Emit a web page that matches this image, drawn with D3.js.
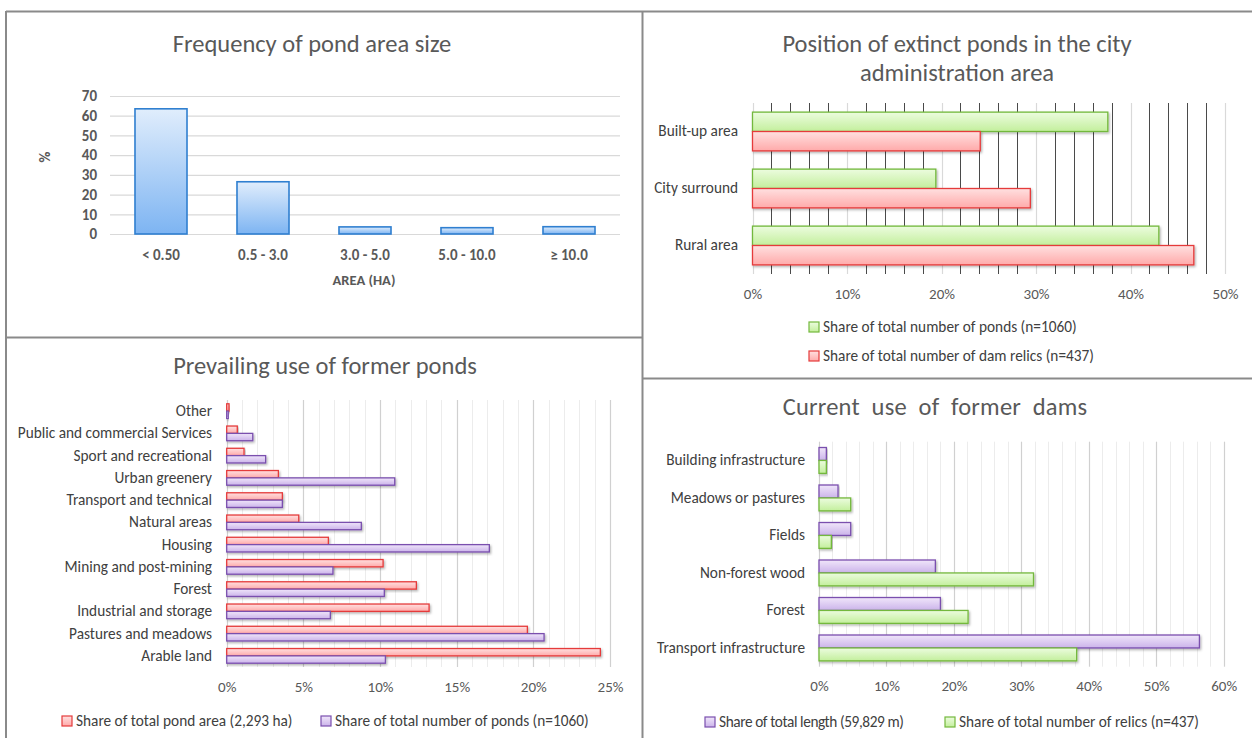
<!DOCTYPE html>
<html>
<head>
<meta charset="utf-8">
<script src="https://cdn.jsdelivr.net/npm/d3@7"></script>
<style>
  body { margin: 0; background: #fff; }
  svg { display: block; }
  text { font-family: Carlito, Calibri, Lato, "Open Sans", sans-serif; }
</style>
</head>
<body>
<svg id="chart" width="1252" height="738"></svg>
<script>
// ---- Frequency of pond area size (%) ----
const areaClasses = ["< 0.50", "0.5 - 3.0", "3.0 - 5.0", "5.0 - 10.0", "≥ 10.0"];
const areaFrequency = [63.5, 26.5, 3.6, 3.2, 3.7];
const frequencyTicks = [0, 10, 20, 30, 40, 50, 60, 70];

// ---- Position of extinct ponds in the city administration area (%) ----
const positionCategories = ["Built-up area", "City surround", "Rural area"];
const positionPonds = [37.6, 19.4, 43.0];
const positionDamRelics = [24.1, 29.4, 46.7];
const positionTicks = [0, 10, 20, 30, 40, 50];

// ---- Prevailing use of former ponds (%) ----
const useCategories = ["Other", "Public and commercial Services", "Sport and recreational",
  "Urban greenery", "Transport and technical", "Natural areas", "Housing",
  "Mining and post-mining", "Forest", "Industrial and storage",
  "Pastures and meadows", "Arable land"];
const useArea = [0.15, 0.69, 1.13, 3.37, 3.63, 4.70, 6.63, 10.2, 12.37, 13.2, 19.61, 24.37];
const usePonds = [0.1, 1.7, 2.54, 10.96, 3.63, 8.78, 17.13, 6.93, 10.28, 6.76, 20.7, 10.35];
const useTicks = [0, 5, 10, 15, 20, 25];

// ---- Current use of former dams (%) ----
const damCategories = ["Building infrastructure", "Meadows or pastures", "Fields",
  "Non-forest wood", "Forest", "Transport infrastructure"];
const damLength = [1.09, 2.82, 4.70, 17.25, 18.0, 56.4];
const damRelics = [1.09, 4.70, 1.83, 31.8, 22.1, 38.2];
const damTicks = [0, 10, 20, 30, 40, 50, 60];

const svg = d3.select("#chart");
const defs = svg.append("defs");

// Fill styles: vertical gradients with a darker outline
const palette = {
  blue:   { top: "#e0edfc", bottom: "#7db4f2", stroke: "#2f7fd0" },
  green:  { top: "#ecfcdf", bottom: "#c3ef9c", stroke: "#73b83c" },
  red:    { top: "#ffe0e0", bottom: "#ffaaaa", stroke: "#e53b3b" },
  purple: { top: "#f0e6fa", bottom: "#cbb3ea", stroke: "#7a4fae" }
};
Object.entries(palette).forEach(([name, c]) => {
  const lg = defs.append("linearGradient").attr("id", "grad-" + name)
    .attr("x1", 0).attr("y1", 0).attr("x2", 0).attr("y2", 1);
  lg.append("stop").attr("offset", "0%").attr("stop-color", c.top);
  lg.append("stop").attr("offset", "100%").attr("stop-color", c.bottom);
});
const shadow = defs.append("filter").attr("id", "shadow")
  .attr("x", "-5%").attr("y", "-30%").attr("width", "115%").attr("height", "180%");
shadow.append("feDropShadow").attr("dx", 1.2).attr("dy", 1.5)
  .attr("stdDeviation", 0.9).attr("flood-color", "#000").attr("flood-opacity", 0.3);

const TITLE = "#595959", LABEL = "#404040", TICK = "#595959";
const LABEL_SIZE = 15.3, TICK_SIZE = 15, TITLE_SIZE = 24.5;

function title(lines, cx, y0, lh, spacing) {
  lines.forEach((t, i) => {
    const txt = svg.append("text")
      .attr("x", cx).attr("y", y0 + i * lh)
      .attr("text-anchor", "middle").attr("font-size", TITLE_SIZE).attr("fill", TITLE)
      .text(t);
    if (spacing) txt.attr("letter-spacing", spacing.letter).attr("word-spacing", spacing.word);
  });
}

// ===== Chart 1: vertical column chart =====
(function () {
  const g = svg.append("g");
  const x = d3.scaleBand().domain(areaClasses).range([110, 620])
    .paddingInner(0.49).paddingOuter(0.245);
  const y = d3.scaleLinear().domain([0, 70]).range([234, 96]);

  g.append("g").selectAll("line").data(frequencyTicks).join("line")
    .attr("x1", 110).attr("x2", 620)
    .attr("y1", d => y(d) + 0.5).attr("y2", d => y(d) + 0.5)
    .attr("stroke", "#d9d9d9").attr("stroke-width", 1.2);

  const ya = g.append("g").attr("transform", "translate(110,0)")
    .call(d3.axisLeft(y).tickValues(frequencyTicks).tickSize(0).tickPadding(13));
  ya.select(".domain").remove();
  ya.selectAll("text").attr("font-size", 15).attr("font-weight", "bold")
    .attr("fill", TICK).attr("font-family", null);

  const xa = g.append("g").attr("transform", "translate(0,234)")
    .call(d3.axisBottom(x).tickSize(0).tickPadding(15));
  xa.select(".domain").remove();
  xa.selectAll("text").attr("font-size", 15).attr("font-weight", "bold")
    .attr("fill", TICK).attr("font-family", null);

  g.append("g").selectAll("rect").data(areaClasses).join("rect")
    .attr("x", d => x(d)).attr("width", x.bandwidth())
    .attr("y", (d, i) => y(areaFrequency[i]))
    .attr("height", (d, i) => y(0) - y(areaFrequency[i]))
    .attr("fill", "url(#grad-blue)").attr("stroke", palette.blue.stroke)
    .attr("stroke-width", 1.6);

  g.append("text").attr("transform", "translate(50,157) rotate(-90)")
    .attr("text-anchor", "middle").attr("font-size", 15).attr("font-weight", "bold")
    .attr("fill", TICK).text("%");
  g.append("text").attr("x", 364).attr("y", 285).attr("text-anchor", "middle")
    .attr("font-size", 14.5).attr("font-weight", "bold").attr("fill", TICK)
    .text("AREA (HA)");

  title(["Frequency of pond area size"], 312, 52, 0);
})();

// ===== Horizontal grouped bar charts =====
function hbars(o) {
  const g = svg.append("g");
  const x = d3.scaleLinear().domain([0, o.max]).range([o.x0, o.x1]);
  const y = d3.scaleBand().domain(o.categories).range([o.top, o.bottom])
    .paddingInner(o.pad).paddingOuter(o.pad / 2);
  const sub = d3.scaleBand().domain(o.series.map((s, i) => i)).range([0, y.bandwidth()]);

  // minor then major gridlines
  const minor = d3.range(0, o.max + 1e-6, o.minor).filter(v => Math.abs(v / o.major - Math.round(v / o.major)) > 1e-6);
  g.append("g").selectAll("line").data(minor).join("line")
    .attr("x1", d => Math.round(x(d)) + 0.5).attr("x2", d => Math.round(x(d)) + 0.5)
    .attr("y1", o.top).attr("y2", o.bottom)
    .attr("stroke", o.minorColor).attr("stroke-width", 1);
  g.append("g").selectAll("line").data(o.ticks).join("line")
    .attr("x1", d => Math.round(x(d)) + 0.5).attr("x2", d => Math.round(x(d)) + 0.5)
    .attr("y1", o.top).attr("y2", o.bottom)
    .attr("stroke", o.majorColor).attr("stroke-width", 1.2);

  // bars
  o.series.forEach((s, si) => {
    const c = palette[s.color];
    g.append("g").selectAll("rect").data(o.categories).join("rect")
      .attr("x", x(0))
      .attr("y", d => y(d) + sub(si))
      .attr("width", (d, i) => x(s.values[i]) - x(0))
      .attr("height", sub.bandwidth())
      .attr("fill", "url(#grad-" + s.color + ")")
      .attr("stroke", c.stroke).attr("stroke-width", 1.3)
      .attr("filter", "url(#shadow)");
  });

  const xa = g.append("g").attr("transform", `translate(0,${o.bottom})`)
    .call(d3.axisBottom(x).tickValues(o.ticks).tickSize(0).tickPadding(o.tickPad)
      .tickFormat(d => d + "%"));
  xa.select(".domain").remove();
  xa.selectAll("text").attr("font-size", TICK_SIZE).attr("fill", TICK).attr("font-family", null);

  const ya = g.append("g").attr("transform", `translate(${o.x0},0)`)
    .call(d3.axisLeft(y).tickSize(0).tickPadding(o.x0 - o.labelX));
  ya.select(".domain").remove();
  ya.selectAll("text").attr("font-size", LABEL_SIZE).attr("fill", LABEL).attr("font-family", null);

  // legend
  o.legend.forEach(l => {
    const c = palette[o.series[l.series].color];
    g.append("rect").attr("x", l.x).attr("y", l.y - 5).attr("width", 10).attr("height", 10)
      .attr("fill", "url(#grad-" + o.series[l.series].color + ")")
      .attr("stroke", c.stroke).attr("stroke-width", 1.2);
    g.append("text").attr("x", l.x + 14).attr("y", l.y).attr("dy", "0.35em")
      .attr("font-size", LABEL_SIZE).attr("letter-spacing", l.tracking || 0)
      .attr("fill", LABEL).text(o.series[l.series].name);
  });
}

// Chart 2
title(["Position of extinct ponds in the city", "administration area"], 957, 52, 29);
hbars({
  categories: positionCategories,
  series: [
    { name: "Share of total number of ponds (n=1060)", values: positionPonds, color: "green" },
    { name: "Share of total number of dam relics (n=437)", values: positionDamRelics, color: "red" }
  ],
  max: 50, x0: 752.5, x1: 1225, top: 103, bottom: 274, pad: 0.32,
  minor: 2, major: 10, ticks: positionTicks,
  minorColor: "#4a4a4a", majorColor: "#d9d9d9",
  tickPad: 14, labelX: 738,
  legend: [{ series: 0, x: 809, y: 327 }, { series: 1, x: 809, y: 356 }]
});

// Chart 3
title(["Prevailing use of former ponds"], 325, 374, 0);
hbars({
  categories: useCategories,
  series: [
    { name: "Share of total pond area (2,293 ha)", values: useArea, color: "red" },
    { name: "Share of total number of ponds (n=1060)", values: usePonds, color: "purple" }
  ],
  max: 25, x0: 226.7, x1: 610, top: 400, bottom: 667, pad: 0.34,
  minor: 1, major: 5, ticks: useTicks,
  minorColor: "#ececec", majorColor: "#d0d0d0",
  tickPad: 14, labelX: 212,
  legend: [{ series: 0, x: 62, y: 721 }, { series: 1, x: 321, y: 721 }]
});

// Chart 4
title(["Current use of former dams"], 935, 415, 0, { letter: 0.2, word: 6 });
hbars({
  categories: damCategories,
  series: [
    { name: "Share of total length (59,829 m)", values: damLength, color: "purple" },
    { name: "Share of total number of relics (n=437)", values: damRelics, color: "green" }
  ],
  max: 60, x0: 819, x1: 1223.7, top: 441.7, bottom: 666.7, pad: 0.31,
  minor: 2, major: 10, ticks: damTicks,
  minorColor: "#ececec", majorColor: "#d0d0d0",
  tickPad: 14, labelX: 805,
  legend: [{ series: 0, x: 705, y: 722, tracking: -0.4 }, { series: 1, x: 945, y: 722 }]
});

// Panel frames
const frame = svg.append("g").attr("stroke", "#8a8a8a").attr("stroke-width", 2).attr("fill", "none");
[[6, 11.5, 1252, 11.5], [6, 11, 6, 738], [642.5, 11, 642.5, 738],
 [6, 337.5, 642.5, 337.5], [642.5, 378.5, 1252, 378.5]]
  .forEach(([x1, y1, x2, y2]) => frame.append("line")
    .attr("x1", x1).attr("y1", y1).attr("x2", x2).attr("y2", y2));
</script>
</body>
</html>
